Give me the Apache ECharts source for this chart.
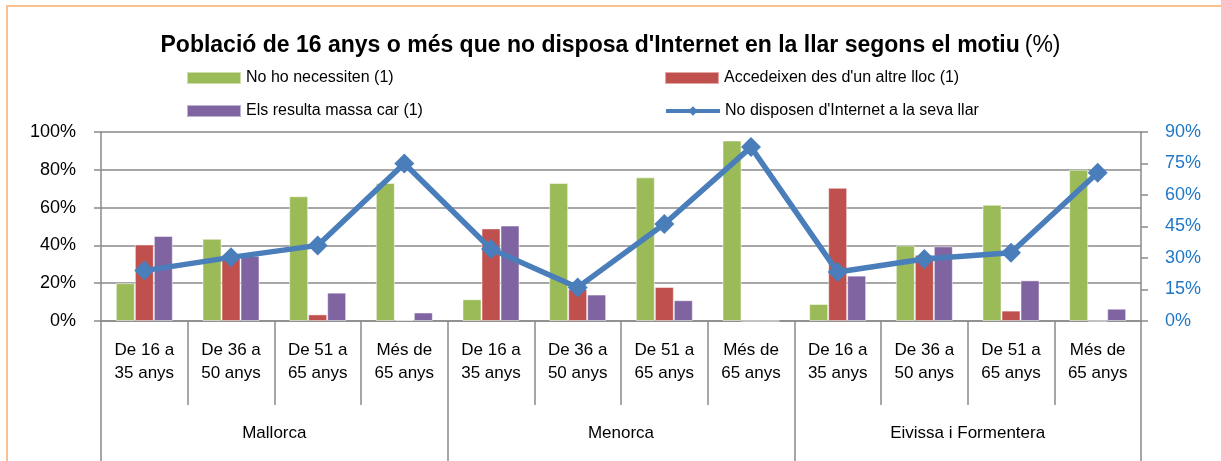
<!DOCTYPE html>
<html>
<head>
<meta charset="utf-8">
<script src="https://cdn.jsdelivr.net/npm/echarts@6/dist/echarts.min.js"></script>
<style>
html,body{margin:0;padding:0;background:#fff;}
#frame{position:absolute;left:6px;top:5px;width:1230px;height:470px;border:2.5px solid #FAC090;box-sizing:border-box;}
#chart{position:absolute;left:0;top:0;width:1221px;height:461px;}
</style>
</head>
<body>
<div id="frame"></div>
<div id="chart"></div>
<script>
const categories = ['De 16 a\n35 anys','De 36 a\n50 anys','De 51 a\n65 anys','Més de\n65 anys',
                    'De 16 a\n35 anys','De 36 a\n50 anys','De 51 a\n65 anys','Més de\n65 anys',
                    'De 16 a\n35 anys','De 36 a\n50 anys','De 51 a\n65 anys','Més de\n65 anys'];
const groups = ['Mallorca','Menorca','Eivissa i Formentera'];
const seriesNames = ['No ho necessiten (1)','Accedeixen des d\'un altre lloc (1)','Els resulta massa car (1)','No disposen d\'Internet a la seva llar'];
const noNecessiten = [20, 43.5, 66, 73, 11.5, 73, 76, 95.5, 9, 40, 61.5, 80];
const altreLloc   = [40.5, 35, 3.5, 0.5, 49, 17, 18, 0, 70.5, 35, 5.5, 0];
const massaCar    = [45, 34.5, 15, 4.5, 50.5, 14, 11, 0, 24, 39.5, 21.5, 6.5];
const noDisposen  = [24, 30.3, 36, 75, 34.3, 16, 46.2, 82.8, 23.3, 29.5, 32.5, 70.6];
const leftTicks = {min:0, max:100, interval:20};
const rightTicks = {min:0, max:90, interval:15};

const FONT = '"Liberation Sans",sans-serif';
const chart = echarts.init(document.getElementById('chart'));
const gridColor = '#8a8a8a';
const legendBase = {itemWidth:54, itemHeight:12, itemGap:0, padding:0, selectedMode:false,
  textStyle:{fontFamily:FONT, fontSize:16, color:'#000'}, lineStyle:{width:4}};
chart.setOption({
  animation:false,
  textStyle:{fontFamily:FONT},
  title:{
    text:'{b|Població de 16 anys o més que no disposa d\'Internet en la llar segons el motiu} {n|(%)}',
    left:'center', top:29,
    textStyle:{rich:{b:{fontFamily:FONT, fontSize:23, fontWeight:'bold', color:'#000'}, n:{fontFamily:FONT, fontSize:23, fontWeight:'normal', color:'#000'}}}
  },
  legend:[
    Object.assign({data:[{name:seriesNames[0], icon:'rect'}], left:186, top:70}, legendBase),
    Object.assign({data:[{name:seriesNames[1], icon:'rect'}], left:664, top:70}, legendBase),
    Object.assign({data:[{name:seriesNames[2], icon:'rect'}], left:186, top:103}, legendBase),
    Object.assign({data:[seriesNames[3]], left:664, top:103}, legendBase)
  ],
  grid:{left:101, right:80, top:132, bottom:140, containLabel:false},
  xAxis:[
    {type:'category', data:categories, position:'bottom',
     axisLine:{show:true, lineStyle:{color:gridColor, width:1.5}},
     axisTick:{show:true, interval:0, length:84, lineStyle:{color:gridColor, width:1.5}},
     axisLabel:{interval:0, margin:18, fontSize:17, lineHeight:23, color:'#000', fontFamily:FONT}},
    {type:'category', data:groups, position:'bottom',
     axisLine:{show:false},
     axisTick:{show:true, interval:0, length:140, lineStyle:{color:gridColor, width:1.5}},
     axisLabel:{interval:0, margin:104, fontSize:17, color:'#000', fontFamily:FONT}}
  ],
  yAxis:[
    {type:'value', min:leftTicks.min, max:leftTicks.max, interval:leftTicks.interval, position:'left',
     axisLine:{show:true, lineStyle:{color:gridColor, width:1.5}},
     axisTick:{show:true, length:7, lineStyle:{color:gridColor, width:1.5}},
     splitLine:{show:true, lineStyle:{color:gridColor, width:1.5}},
     axisLabel:{formatter:'{value}%', fontSize:18, color:'#000', margin:25, fontFamily:FONT}},
    {type:'value', min:rightTicks.min, max:rightTicks.max, interval:rightTicks.interval, position:'right',
     axisLine:{show:true, lineStyle:{color:gridColor, width:1.5}},
     axisTick:{show:true, length:7, lineStyle:{color:gridColor, width:1.5}},
     splitLine:{show:false},
     axisLabel:{formatter:'{value}%', fontSize:18, color:'#1F77C6', margin:24, fontFamily:FONT}}
  ],
  series:[
    {name:seriesNames[0], type:'bar', data:noNecessiten, barWidth:19, barGap:'0%', itemStyle:{color:'#9BBB59', borderColor:'rgba(255,255,255,0.5)', borderWidth:1}},
    {name:seriesNames[1], type:'bar', data:altreLloc, barWidth:19, barGap:'0%', itemStyle:{color:'#C0504D', borderColor:'rgba(255,255,255,0.5)', borderWidth:1}},
    {name:seriesNames[2], type:'bar', data:massaCar, barWidth:19, barGap:'0%', itemStyle:{color:'#8064A2', borderColor:'rgba(255,255,255,0.5)', borderWidth:1}},
    {name:seriesNames[3], type:'line', yAxisIndex:1, data:noDisposen, symbol:'diamond', symbolSize:20, z:5,
     lineStyle:{color:'#4A7EBB', width:5.5}, itemStyle:{color:'#4A7EBB'}}
  ]
});
</script>
</body>
</html>
